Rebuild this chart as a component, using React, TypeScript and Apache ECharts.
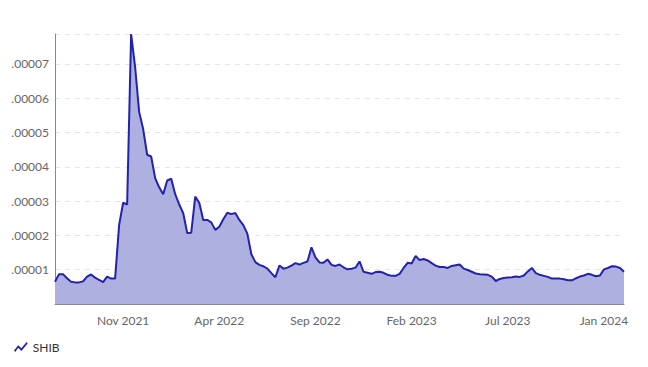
import React, { useEffect, useRef } from "react";
import * as echarts from "echarts";

const seriesName = "SHIB";

const shibPrices: number[] = [
  6.5e-6, 8.7e-6, 8.7e-6, 7.5e-6, 6.5e-6, 6.3e-6, 6.3e-6, 6.6e-6, 8.0e-6, 8.6e-6,
  7.7e-6, 7.0e-6, 6.4e-6, 8.0e-6, 7.4e-6, 7.4e-6, 2.3e-5, 2.95e-5, 2.9e-5, 7.87e-5,
  6.9e-5, 5.6e-5, 5.1e-5, 4.35e-5, 4.3e-5, 3.67e-5, 3.4e-5, 3.2e-5, 3.6e-5, 3.65e-5,
  3.2e-5, 2.9e-5, 2.65e-5, 2.07e-5, 2.08e-5, 3.13e-5, 2.95e-5, 2.45e-5, 2.45e-5, 2.38e-5,
  2.16e-5, 2.25e-5, 2.47e-5, 2.66e-5, 2.62e-5, 2.65e-5, 2.45e-5, 2.3e-5, 2.05e-5, 1.45e-5,
  1.22e-5, 1.14e-5, 1.1e-5, 1.03e-5, 9.0e-6, 7.8e-6, 1.12e-5, 1.03e-5, 1.06e-5, 1.12e-5,
  1.19e-5, 1.15e-5, 1.2e-5, 1.24e-5, 1.65e-5, 1.36e-5, 1.21e-5, 1.2e-5, 1.3e-5, 1.14e-5,
  1.11e-5, 1.15e-5, 1.07e-5, 1.01e-5, 1.03e-5, 1.06e-5, 1.24e-5, 9.4e-6, 9.1e-6, 8.8e-6,
  9.3e-6, 9.4e-6, 9.1e-6, 8.5e-6, 8.2e-6, 8.2e-6, 8.8e-6, 1.05e-5, 1.2e-5, 1.18e-5,
  1.4e-5, 1.28e-5, 1.31e-5, 1.27e-5, 1.19e-5, 1.12e-5, 1.08e-5, 1.08e-5, 1.05e-5, 1.11e-5,
  1.13e-5, 1.15e-5, 1.03e-5, 9.9e-6, 9.4e-6, 8.9e-6, 8.7e-6, 8.6e-6, 8.5e-6, 8.0e-6,
  6.7e-6, 7.3e-6, 7.6e-6, 7.7e-6, 7.8e-6, 8.0e-6, 7.9e-6, 8.3e-6, 9.5e-6, 1.05e-5,
  9.0e-6, 8.5e-6, 8.2e-6, 7.9e-6, 7.4e-6, 7.4e-6, 7.4e-6, 7.2e-6, 6.9e-6, 6.9e-6,
  7.5e-6, 8.0e-6, 8.3e-6, 8.8e-6, 8.5e-6, 8.1e-6, 8.3e-6, 1.01e-5, 1.05e-5, 1.1e-5,
  1.09e-5, 1.05e-5, 9.4e-6,
];

const tickLabels = ["Nov 2021", "Apr 2022", "Sep 2022", "Feb 2023", "Jul 2023", "Jan 2024"];
const tickIndices = [17, 41, 65, 89, 113, 137];

const categories = shibPrices.map((_, i) => String(i));

const legendIcon = "path://M0,9 L4,4 L7,7 L12,1 L13,2.5 L7,9.5 L4,6.5 L1.2,10.5 Z";

export default function App() {
  const ref = useRef<HTMLDivElement>(null);
  useEffect(() => {
    if (!ref.current) return;
    const chart = echarts.init(ref.current, undefined, { renderer: "svg" });
    chart.setOption({
      animation: false,
      textStyle: { fontFamily: "Lato, 'Open Sans', sans-serif" },
      grid: { left: 47, right: 16, top: 26, bottom: 55, containLabel: false },
      legend: {
        data: [{ name: seriesName, icon: legendIcon }],
        left: 1,
        top: 328,
        itemWidth: 14,
        itemHeight: 10,
        itemGap: 6,
        textStyle: { color: "#333", fontSize: 12 },
      },
      xAxis: {
        type: "category",
        data: categories,
        boundaryGap: false,
        axisLine: { show: true, lineStyle: { color: "#888", width: 1 } },
        axisTick: { show: false },
        splitLine: { show: false },
        axisLabel: {
          color: "#666",
          fontSize: 12,
          margin: 10,
          interval: (index: number) => tickIndices.includes(index),
          formatter: (_v: string, index: number) => {
            const k = tickIndices.indexOf(index);
            return k >= 0 ? tickLabels[k] : "";
          },
        },
      },
      yAxis: {
        type: "value",
        min: 0,
        max: "dataMax",
        interval: 0.00001,
        axisLine: { show: true, lineStyle: { color: "#888", width: 1 } },
        axisTick: { show: false },
        splitLine: { show: true, lineStyle: { color: "#e6e6e6", type: [5, 5] } },
        axisLabel: {
          color: "#666",
          fontSize: 12,
          margin: 6,
          showMinLabel: false,
          showMaxLabel: false,
          formatter: (v: number) => v.toFixed(5).replace(/^0/, ""),
        },
      },
      series: [
        {
          name: seriesName,
          type: "line",
          data: shibPrices,
          showSymbol: false,
          symbol: "none",
          lineStyle: { color: "#2222ac", width: 2 },
          itemStyle: { color: "#2222ac" },
          areaStyle: { color: "#aeb0e0", opacity: 1 },
        },
      ],
    });
    return () => chart.dispose();
  }, []);
  return <div ref={ref} style={{ width: 632, height: 351 }} />;
}
